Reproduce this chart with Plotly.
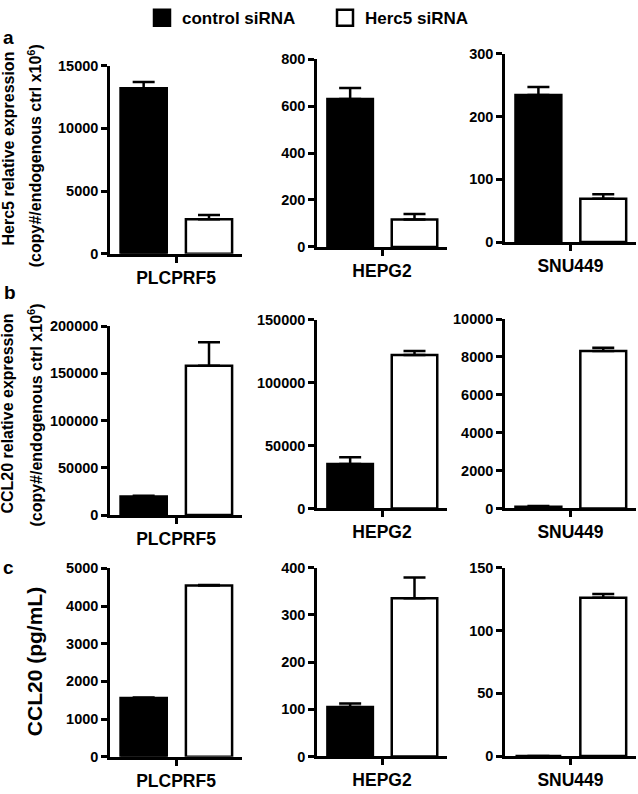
import plotly.graph_objects as go

# ---------------- data ----------------
cells = ["PLCPRF5", "HEPG2", "SNU449"]
series_names = ["control siRNA", "Herc5 siRNA"]

# a: Herc5 relative expression (copy#/endogenous ctrl x10^6)
a_control = [13200, 630, 234]
a_control_err = [500, 47, 13]
a_herc5 = [2750, 117, 69]
a_herc5_err = [340, 23, 7]

# b: CCL20 relative expression (copy#/endogenous ctrl x10^6)
b_control = [19500, 35300, 90]
b_control_err = [900, 5400, 40]
b_herc5 = [158000, 122000, 8320]
b_herc5_err = [25000, 3100, 170]

# c: CCL20 (pg/mL)
c_control = [1560, 105, 0]
c_control_err = [15, 7, 0]
c_herc5 = [4545, 335, 126]
c_herc5_err = [15, 44, 3]

a_ymax = [15000, 800, 300]
a_dtick = [5000, 200, 100]
b_ymax = [200000, 150000, 10000]
b_dtick = [50000, 50000, 2000]
c_ymax = [5000, 400, 150]
c_dtick = [1000, 100, 50]

panel_letters = ["a", "b", "c"]
row_titles = [
    ["Herc5 relative expression", "(copy#/endogenous ctrl x10<sup>6</sup>)"],
    ["CCL20 relative expression", "(copy#/endogenous ctrl x10<sup>6</sup>)"],
    ["CCL20 (pg/mL)"],
]

# ---------------- geometry / style ----------------
W, H = 638, 794
FONT = "Liberation Sans, Arial, Helvetica, sans-serif"
col_px = [(110, 242), (317, 447), (505, 636)]
row_px = [
    [(55, 248), (48.3, 241), (42.7, 236)],
    [(322.3, 516), (315.7, 509.3), (315, 509.3)],
    [(570.7, 764), (570, 763.7), (570, 763.3)],
]
LW = 2.5


def xd(a, b):
    return [a / W, b / W]


def yd(top, bottom):
    return [1 - bottom / H, 1 - top / H]


rows = [
    (a_control, a_control_err, a_herc5, a_herc5_err, a_ymax, a_dtick),
    (b_control, b_control_err, b_herc5, b_herc5_err, b_ymax, b_dtick),
    (c_control, c_control_err, c_herc5, c_herc5_err, c_ymax, c_dtick),
]

fig = go.Figure()
layout = dict(
    width=W, height=H,
    margin=dict(l=0, r=0, t=0, b=0),
    paper_bgcolor="white", plot_bgcolor="white",
    barmode="overlay",
    font=dict(family=FONT, color="black", size=14, weight="bold"),
    showlegend=True,
)

k = 0
for r, (ctl, ctl_e, hrc, hrc_e, ymax, dtick) in enumerate(rows):
    for c in range(3):
        k += 1
        xa = "x" if k == 1 else f"x{k}"
        ya = "y" if k == 1 else f"y{k}"
        fig.add_trace(go.Bar(
            x=[cells[c]], y=[ctl[c]], xaxis=xa, yaxis=ya,
            name=series_names[0], showlegend=False,
            offset=-0.42, width=0.35,
            marker=dict(color="black", line=dict(color="black", width=LW)),
            error_y=dict(type="data", symmetric=False, array=[ctl_e[c]], arrayminus=[0],
                         color="black", thickness=LW, width=11),
        ))
        fig.add_trace(go.Bar(
            x=[cells[c]], y=[hrc[c]], xaxis=xa, yaxis=ya,
            name=series_names[1], showlegend=False,
            offset=0.075, width=0.35,
            marker=dict(color="white", line=dict(color="black", width=LW)),
            error_y=dict(type="data", symmetric=False, array=[hrc_e[c]], arrayminus=[0],
                         color="black", thickness=LW, width=11),
        ))
        top, bottom = row_px[r][c]
        layout["xaxis" if k == 1 else f"xaxis{k}"] = dict(
            domain=xd(*col_px[c]), anchor=ya, type="category",
            range=[-0.5, 0.5], showline=True, linecolor="black", linewidth=LW,
            ticks="outside", ticklen=6, tickwidth=LW, tickcolor="black",
            showgrid=False, zeroline=False, fixedrange=True,
            tickfont=dict(family=FONT, size=17.5, color="black", weight="bold"),
        )
        layout["yaxis" if k == 1 else f"yaxis{k}"] = dict(
            domain=yd(top, bottom), anchor=xa,
            range=[0, ymax[c]], dtick=dtick[c], tick0=0, tickformat="d",
            showline=True, linecolor="black", linewidth=LW,
            ticks="outside", ticklen=6, tickwidth=LW, tickcolor="black",
            showgrid=False, zeroline=False, fixedrange=True,
            tickfont=dict(family=FONT, size=14.5, color="black", weight="bold"),
        )

# legend entries (square swatches)
for name, fill in zip(series_names, ["black", "white"]):
    fig.add_trace(go.Scatter(
        x=[None], y=[None], mode="markers", name=name, showlegend=True,
        marker=dict(symbol="square", size=16, color=fill, line=dict(color="black", width=2.5)),
    ))

layout["legend"] = dict(
    orientation="h", x=142 / W, xanchor="left", y=1 + 12 / H, yanchor="top",
    font=dict(family=FONT, size=17, color="black", weight="bold"),
    bgcolor="rgba(0,0,0,0)", borderwidth=0,
    entrywidth=138, entrywidthmode="pixels", tracegroupgap=0,
)

annotations = []
# y-axis titles
title_font = dict(family=FONT, size=16, color="black", weight="bold")
annotations.append(dict(text=row_titles[0][0], x=8 / W, y=1 - 140 / H, xref="paper", yref="paper",
                        textangle=-90, showarrow=False, xanchor="center", yanchor="middle", font=title_font))
annotations.append(dict(text=row_titles[0][1], x=35 / W, y=1 - 148 / H, xref="paper", yref="paper",
                        textangle=-90, showarrow=False, xanchor="center", yanchor="middle", font=title_font))
annotations.append(dict(text=row_titles[1][0], x=8 / W, y=1 - 412 / H, xref="paper", yref="paper",
                        textangle=-90, showarrow=False, xanchor="center", yanchor="middle", font=title_font))
annotations.append(dict(text=row_titles[1][1], x=35 / W, y=1 - 414 / H, xref="paper", yref="paper",
                        textangle=-90, showarrow=False, xanchor="center", yanchor="middle", font=title_font))
annotations.append(dict(text=row_titles[2][0], x=34 / W, y=1 - 667 / H, xref="paper", yref="paper",
                        textangle=-90, showarrow=False, xanchor="center", yanchor="middle",
                        font=dict(family=FONT, size=21, color="black", weight="bold")))
# panel letters
for letter, (lx, ly) in zip(panel_letters, [(1, 26), (2, 288), (1, 570)]):
    annotations.append(dict(text=letter, x=lx / W, y=1 - ly / H, xref="paper", yref="paper",
                            showarrow=False, xanchor="left", yanchor="middle",
                            font=dict(family=FONT, size=19, color="black", weight="bold")))
layout["annotations"] = annotations

fig.update_layout(**layout)
fig.write_html("out.html", config={"displayModeBar": False},
               post_script="document.body.style.margin='0px';")
